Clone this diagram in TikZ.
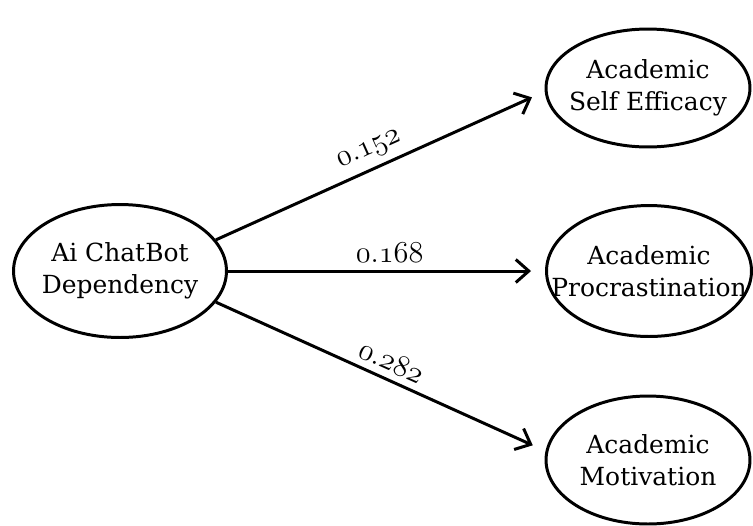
\documentclass[tikz,border=0pt]{standalone}
\usepackage{fontspec}
\setmainfont{DejaVu Serif}
\usetikzlibrary{shapes.geometric,arrows.meta}

\begin{document}
\begin{tikzpicture}[x=0.02cm, y=-0.02cm,
    construct/.style={ellipse, draw, line width=1.7pt, inner xsep=-0.8cm, inner ysep=0pt, align=center,
      font=\fontsize{14.2}{18.2}\selectfont},
    path/.style={-{Straight Barb[length=2.6mm,width=4.6mm]}, line width=1.7pt, shorten >=0.28cm},
    coef/.style={sloped, above, inner sep=4pt, font=\fontsize{16}{18}\selectfont}]
  \useasboundingbox (0,0) rectangle (753,525);

  % Nodes
  \node[construct, minimum width=4.26cm, minimum height=2.66cm] (dep) at (120,271) {Ai ChatBot\\Dependency};
  \node[construct, minimum width=4.08cm, minimum height=2.36cm] (eff) at (648,88) {Academic\\Self Efficacy};
  \node[construct, minimum width=4.1cm, minimum height=2.62cm] (pro) at (649,271) {Academic\\Procrastination};
  \node[construct, minimum width=4.08cm, minimum height=2.56cm] (mot) at (648,460) {Academic\\Motivation};

  % Edges
  \draw[path] (dep.18) -- node[coef, pos=0.49] {$\mathnormal{0.152}$} (eff.182);
  \draw[path] (dep.east) -- node[coef, pos=0.51] {$\mathnormal{0.168}$} (pro.west);
  \draw[path] (dep.-18) -- node[coef, pos=0.51] {$\mathnormal{0.282}$} (mot.175);
\end{tikzpicture}
\end{document}
